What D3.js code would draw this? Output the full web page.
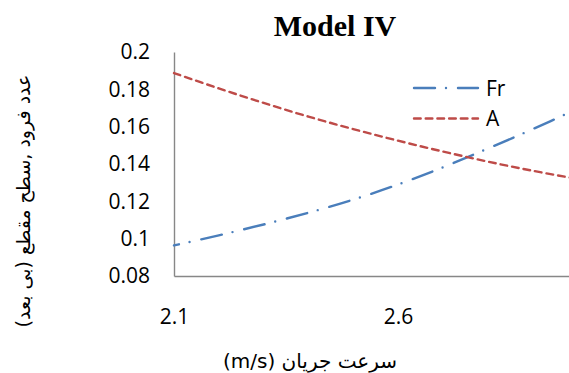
<!DOCTYPE html>
<html>
<head>
<meta charset="utf-8">
<script src="https://cdn.jsdelivr.net/npm/d3@7"></script>
<style>
  body { margin: 0; background: #fff; }
  svg { display: block; }
</style>
</head>
<body>
<div id="chart"></div>
<script>
// chart values
let speeds = [2.1, 2.2, 2.3, 2.4, 2.5, 2.6, 2.7, 2.8, 2.9, 3.0]
let frValues = [0.0964, 0.1018, 0.1076, 0.1139, 0.1209, 0.129, 0.1382, 0.1482, 0.1586, 0.1695]
let areaValues = [0.1887, 0.1805, 0.1727, 0.1654, 0.1587, 0.1525, 0.1467, 0.1413, 0.1364, 0.132]
let seriesNames = ["Fr", "A"]
let xTicks = [2.1, 2.6]   // 3.1 sits past the right edge of the window
let yTicks = [0.08, 0.1, 0.12, 0.14, 0.16, 0.18, 0.2]

let chartTitle = "Model IV"
let xTitle = "سرعت جریان (m/s)"
let yTitle = "عدد فرود ,سطح مقطع (بی بعد)"

// set the dimensions of the graph
let width = 569,
    height = 373

let svg = d3.select("#chart")
  .append("svg")
    .attr("width", width)
    .attr("height", height)

// scales (the axis runs on to 3.1, so the plot is cut at the right)
let x = d3.scaleLinear().domain([2.1, 3.1]).range([174, 622])
let y = d3.scaleLinear().domain([0.08, 0.2]).range([276, 52])

let color = d3.scaleOrdinal()
  .domain(seriesNames)
  .range(["#4a7ebb", "#be4b48"])

let dashes = {
  "Fr": "21,11,0,12",
  "A": "6.7,5"
}

let series = [
  { name: "Fr", values: frValues },
  { name: "A", values: areaValues }
]

// axes
let xAxis = svg.append("g")
  .attr("transform", "translate(0," + y(0.08) + ")")
  .call(d3.axisBottom(x)
    .tickValues(xTicks)
    .tickFormat(d3.format(""))
    .tickSize(0)
    .tickPadding(33))

let yAxis = svg.append("g")
  .attr("transform", "translate(" + x(2.1) + ",0)")
  .call(d3.axisLeft(y)
    .tickValues(yTicks)
    .tickFormat(d3.format(""))
    .tickSize(0)
    .tickPadding(24))

svg.selectAll(".domain")
  .attr("stroke", "#878787")
  .attr("stroke-width", 1.4)

svg.selectAll(".tick text")
  .attr("fill", "#000")
  .style("font-family", "'Open Sans', sans-serif")
  .style("font-size", "21px")

// lines, smoothed like the original
let line = d3.line()
  .x(function(d, i) { return x(speeds[i]) })
  .y(function(d) { return y(d) })
  .curve(d3.curveCatmullRom)

svg.selectAll(".series")
  .data(series)
  .enter()
  .append("path")
    .attr("class", "series")
    .attr("d", function(d) { return line(d.values) })
    .attr("fill", "none")
    .attr("stroke", function(d) { return color(d.name) })
    .attr("stroke-width", 2.4)
    .attr("stroke-linecap", "round")
    .attr("stroke-dasharray", function(d) { return dashes[d.name] })
    .attr("stroke-dashoffset", function(d) { return d.name === "Fr" ? 16 : 0 })

// legend
let legendY = d3.scalePoint().domain(seriesNames).range([88, 118.5])

let legend = svg.selectAll(".legend")
  .data(seriesNames)
  .enter()
  .append("g")
    .attr("class", "legend")
    .attr("transform", function(d) { return "translate(0," + legendY(d) + ")" })

legend.append("line")
  .attr("x1", 414)
  .attr("x2", 478)
  .attr("stroke", function(d) { return color(d) })
  .attr("stroke-width", 2.4)
  .attr("stroke-linecap", "round")
  .attr("stroke-dasharray", function(d) { return dashes[d] })

legend.append("text")
  .attr("x", 486)
  .attr("dy", "0.36em")
  .text(function(d) { return d })
  .style("font-family", "'Open Sans', sans-serif")
  .style("font-size", "21px")

// titles
svg.append("text")
  .attr("x", 335)
  .attr("y", 36)
  .attr("text-anchor", "middle")
  .text(chartTitle)
  .style("font-family", "'Liberation Serif', serif")
  .style("font-weight", "bold")
  .style("font-size", "30px")

svg.append("text")
  .attr("x", 310)
  .attr("y", 368)
  .attr("text-anchor", "middle")
  .attr("direction", "rtl")
  .text(xTitle)
  .style("font-family", "'DejaVu Sans', sans-serif")
  .style("font-size", "20px")

svg.append("text")
  .attr("transform", "translate(30,201) rotate(-90)")
  .attr("text-anchor", "middle")
  .attr("direction", "rtl")
  .text(yTitle)
  .style("font-family", "'DejaVu Sans', sans-serif")
  .style("font-size", "19px")
</script>
</body>
</html>
